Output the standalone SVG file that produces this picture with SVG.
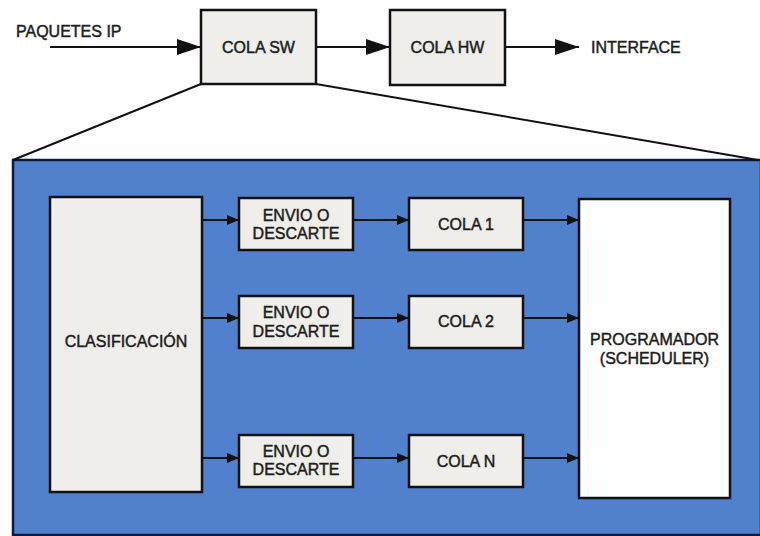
<svg xmlns="http://www.w3.org/2000/svg" width="760" height="536" viewBox="0 0 760 536">
<style>
text{font-family:"Liberation Sans",Arial,sans-serif;font-size:16px;fill:#1c1c1c;stroke:#1c1c1c;stroke-width:0.45;text-anchor:middle}
.lbl{text-anchor:start}
.box{fill:#efeeeb;stroke:#111;stroke-width:2.5}
.wbox{fill:#fefefe;stroke:#111;stroke-width:2.5}
.ln{stroke:#111;stroke-width:2;fill:none}
.big{stroke:#111;stroke-width:2;fill:none;marker-end:url(#bigArrow)}
.sm{stroke:#111;stroke-width:2;fill:none;marker-end:url(#smArrow)}
</style>
<defs>
<marker id="bigArrow" viewBox="0 0 24 16" refX="24" refY="8" markerWidth="24" markerHeight="16" markerUnits="userSpaceOnUse" orient="auto"><path d="M0,0 L24,8 L0,16 Z" fill="#111"/></marker>
<marker id="smArrow" viewBox="0 0 12 10" refX="12" refY="5" markerWidth="12" markerHeight="10" markerUnits="userSpaceOnUse" orient="auto"><path d="M0,0 L12,5 L0,10 Z" fill="#111"/></marker>
</defs>
<rect width="760" height="536" fill="#ffffff"/>
<g id="expansion">
<rect x="13" y="160" width="748" height="375" fill="#5180cc" stroke="#0f1a3a" stroke-width="2.5"/>
</g>
<g id="connectors">
<line class="ln" x1="201" y1="84" x2="13" y2="160"/>
<line class="ln" x1="316" y1="84" x2="758" y2="160"/>
<line class="big" x1="50" y1="47" x2="201" y2="47"/>
<line class="big" x1="316" y1="47" x2="390" y2="47"/>
<line class="big" x1="505" y1="47" x2="579" y2="47"/>
<line class="sm" x1="202" y1="220" x2="239" y2="220"/>
<line class="sm" x1="202" y1="318" x2="239" y2="318"/>
<line class="sm" x1="202" y1="458" x2="239" y2="458"/>
<line class="sm" x1="353" y1="220" x2="409" y2="220"/>
<line class="sm" x1="353" y1="318" x2="409" y2="318"/>
<line class="sm" x1="353" y1="458" x2="409" y2="458"/>
<line class="sm" x1="523" y1="220" x2="579" y2="220"/>
<line class="sm" x1="523" y1="318" x2="579" y2="318"/>
<line class="sm" x1="523" y1="458" x2="579" y2="458"/>
</g>
<g id="paquetes"><text class="lbl" x="16" y="37">PAQUETES IP</text></g>
<g id="cola-sw"><rect class="box" x="201" y="10" width="115" height="74"/><text x="258.5" y="53">COLA SW</text></g>
<g id="cola-hw"><rect class="box" x="390" y="10" width="115" height="75"/><text x="447.5" y="53">COLA HW</text></g>
<g id="interface"><text class="lbl" x="591" y="53">INTERFACE</text></g>
<g id="clasificacion"><rect class="box" x="50" y="197" width="152" height="295"/><text x="126" y="347">CLASIFICACIÓN</text></g>
<g id="envio1"><rect class="box" x="239" y="198" width="114" height="52"/><text x="296" y="221">ENVIO O</text><text x="296" y="239">DESCARTE</text></g>
<g id="envio2"><rect class="box" x="239" y="296" width="114" height="52"/><text x="296" y="318">ENVIO O</text><text x="296" y="337">DESCARTE</text></g>
<g id="envio3"><rect class="box" x="239" y="435" width="114" height="52"/><text x="296" y="457">ENVIO O</text><text x="296" y="475">DESCARTE</text></g>
<g id="cola1"><rect class="box" x="409" y="198" width="114" height="52"/><text x="466" y="230">COLA 1</text></g>
<g id="cola2"><rect class="box" x="409" y="296" width="114" height="52"/><text x="466" y="327">COLA 2</text></g>
<g id="colan"><rect class="box" x="409" y="435" width="114" height="52"/><text x="466" y="467">COLA N</text></g>
<g id="programador"><rect class="wbox" x="579" y="199" width="151" height="299"/><text x="654.5" y="345">PROGRAMADOR</text><text x="654.5" y="364">(SCHEDULER)</text></g>
</svg>
